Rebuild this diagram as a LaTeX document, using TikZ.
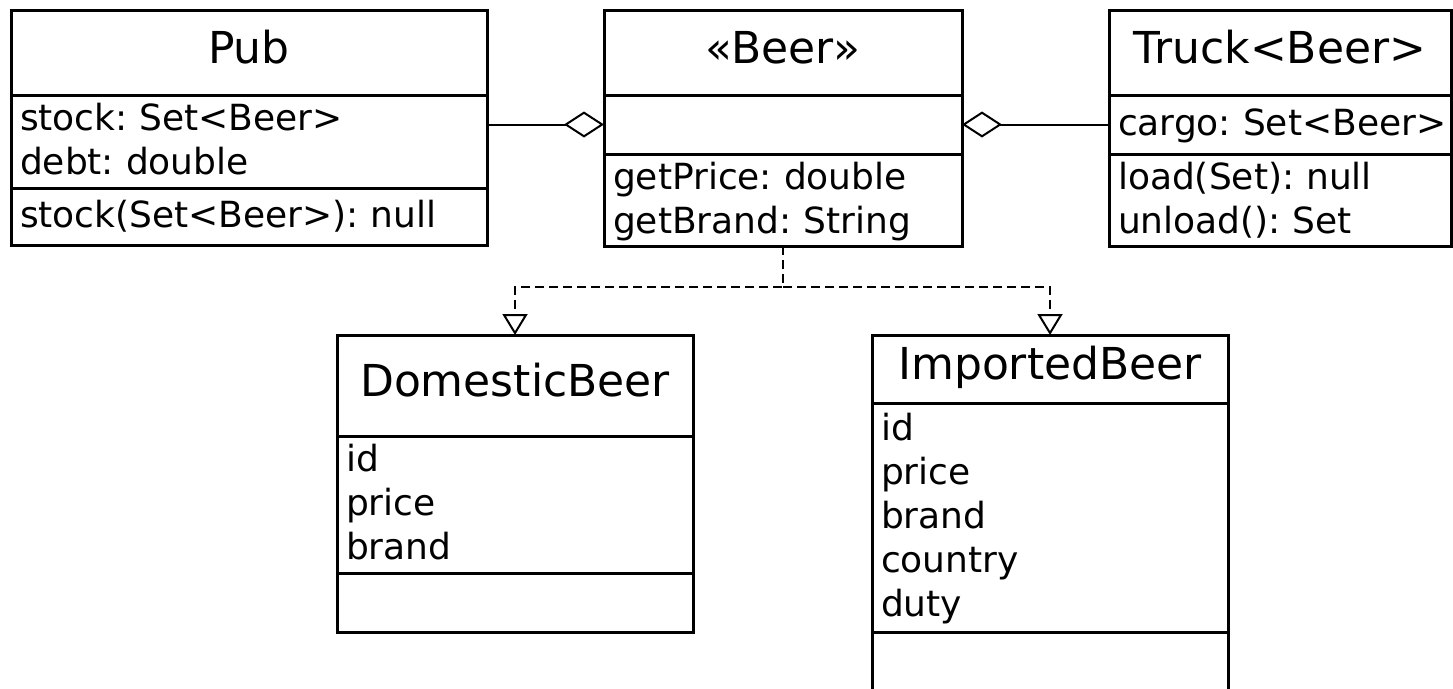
\documentclass[tikz,border=0pt]{standalone}
\usepackage{fontspec}
\usepackage{tikz}
\usetikzlibrary{arrows.meta}
\newfontfamily\umlfont{DejaVu Sans}
\frenchspacing
\tikzset{
	titlestyle/.style={rectangle,draw=black,line width=3pt,anchor=north west,outer sep=0pt,inner xsep=9pt,inner ysep=0pt,align=center,text height=34pt,text depth=13pt,font=\umlfont\fontsize{44}{52}\selectfont},
	memberstyle/.style={rectangle,draw=black,line width=3pt,anchor=north west,outer sep=0pt,inner xsep=9pt,inner ysep=0pt,align=left,font=\umlfont\fontsize{36}{44}\selectfont,execute at begin node={\rule{0pt}{35pt}},execute at end node=\strut},
	aggrstyle/.style={line width=2pt,-{Diamond[open,length=40pt,width=26pt]}},
	realizestyle/.style={line width=2pt,dash pattern=on 9pt off 5pt,-{Triangle[open,length=21pt,width=25pt]}}
}
\begin{document}
\begin{tikzpicture}[x=1pt,y=-1pt]
		\useasboundingbox (0,0) rectangle (1453,688);
		\clip (0,0) rectangle (1453,688);
		\node[titlestyle,text width=458pt,minimum height=85pt] (pub) at (11,10) {Pub};
		\node[memberstyle,text width=458pt,minimum height=93pt] (pubattr) at (pub.south west) {stock: Set<Beer>\\debt: double};
		\node[memberstyle,text width=458pt,minimum height=57pt] (pubops) at (pubattr.south west) {stock(Set<Beer>): null};
		\node[titlestyle,text width=340pt,minimum height=85pt] (beer) at (604,10) {«Beer»};
		\node[memberstyle,text width=340pt,minimum height=59pt] (beerattr) at (beer.south west) {};
		\node[memberstyle,text width=340pt,minimum height=92pt] (beerops) at (beerattr.south west) {getPrice: double\\getBrand: String};
		\node[titlestyle,text width=324pt,minimum height=85pt] (truck) at (1109,10) {Truck<Beer>};
		\node[memberstyle,text width=324pt,minimum height=59pt] (truckattr) at (truck.south west) {cargo:~Set<Beer>};
		\node[memberstyle,text width=324pt,minimum height=92pt] (truckops) at (truckattr.south west) {load(Set): null\\unload(): Set};
		\node[titlestyle,text width=338pt,minimum height=101pt] (domestic) at (337,335) {DomesticBeer};
		\node[memberstyle,text width=338pt,minimum height=137pt] (domesticattr) at (domestic.south west) {id\\price\\brand};
		\node[memberstyle,text width=338pt,minimum height=59pt] (domesticops) at (domesticattr.south west) {};
		\node[titlestyle,text width=338pt,minimum height=68pt] (imported) at (872,335) {ImportedBeer};
		\node[memberstyle,text width=338pt,minimum height=229pt] (importedattr) at (imported.south west) {id\\price\\brand\\country\\duty};
		\node[memberstyle,text width=338pt,minimum height=90pt] (importedops) at (importedattr.south west) {};
		\draw[aggrstyle] (pubattr.east |- beerattr.west) -- (beerattr.west);
		\draw[aggrstyle] (truckattr.west) -- (beerattr.east);
		\coordinate (fork) at (beerops.south |- 0,287);
		\draw[realizestyle] (beerops.south) -- (fork) -| (domestic.north);
		\draw[realizestyle] (fork) -| (imported.north);
\end{tikzpicture}
\end{document}
